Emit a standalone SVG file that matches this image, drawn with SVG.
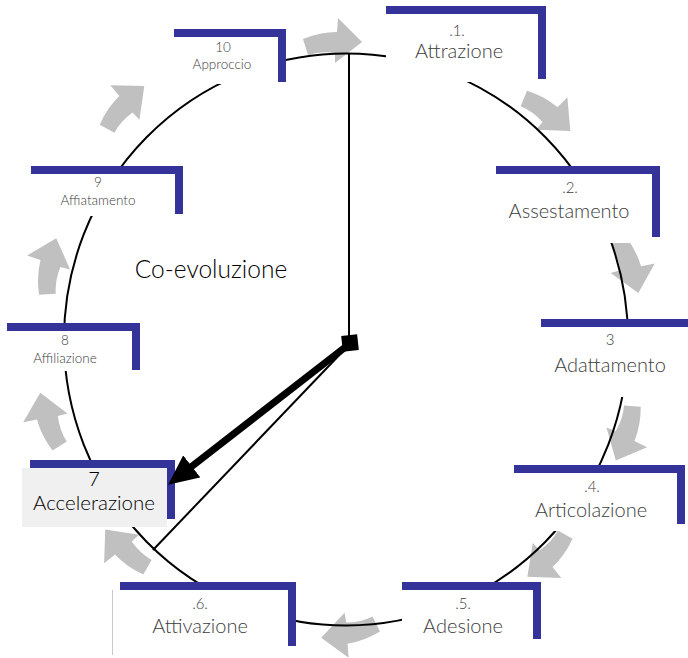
<svg xmlns="http://www.w3.org/2000/svg" width="688" height="658" viewBox="0 0 688 658">
<style>
.bar{fill:#333399}
.bg{fill:#ffffff}
.t{font-family:Lato,"Liberation Sans",sans-serif;font-weight:300;fill:#3c3c3c;text-anchor:middle}
.big{font-size:20px}
.num{font-size:15px}
.sm{font-size:13.5px}
.ga{fill:#c0c0c0}
</style>
<defs>
<path id="ga" d="M -29,-2 Q -12,-9 5,-9 L 6,-23 L 30,1 L 3,22 L 3,12 Q -12,10 -24,14 Z"/>
<marker id="ah" markerUnits="userSpaceOnUse" viewBox="0 0 30 28" refX="1" refY="14" markerWidth="30" markerHeight="28" orient="auto">
<path d="M0,0 L30,14 L0,28 Z" fill="#000"/>
</marker>
</defs>
<rect width="688" height="658" fill="#fff"/>
<g id="flow-arrows" class="ga">
<use href="#ga" transform="translate(332,41)"/>
<use href="#ga" transform="translate(548,111) rotate(40)"/>
<use href="#ga" transform="translate(631,264) rotate(74)"/>
<use href="#ga" transform="translate(628,433) rotate(112)"/>
<use href="#ga" transform="translate(550,557) rotate(137)"/>
<use href="#ga" transform="translate(351,634) rotate(171)"/>
<use href="#ga" transform="translate(125,552) rotate(227)"/>
<use href="#ga" transform="translate(47,422) rotate(255)"/>
<use href="#ga" transform="translate(48,267) rotate(284)"/>
<use href="#ga" transform="translate(122,106) rotate(316)"/>
</g>
<ellipse id="cycle" cx="346" cy="339.5" rx="282" ry="286" fill="none" stroke="#000" stroke-width="2"/>
<text x="211" y="278" font-family="Lato,'Liberation Sans',sans-serif" font-size="24.5" font-weight="300" fill="#000" text-anchor="middle">Co-evoluzione</text>
<g id="n1">
<rect class="bg" x="386" y="6" width="160" height="76"/>
<rect class="bar" x="386" y="6" width="160" height="8"/>
<rect class="bar" x="538" y="6" width="8" height="73"/>
<text class="t num" x="457" y="36">.1.</text>
<text class="t big" x="459" y="58">Attrazione</text>
</g>
<g id="n2">
<rect class="bg" x="496" y="166" width="164" height="77"/>
<rect class="bar" x="496" y="166" width="164" height="8"/>
<rect class="bar" x="652" y="166" width="8" height="71"/>
<text class="t num" x="570" y="193">.2.</text>
<text class="t big" x="569" y="218">Assestamento</text>
</g>
<g id="n3">
<rect class="bg" x="541" y="319" width="147" height="78"/>
<rect class="bar" x="541" y="319" width="147" height="8"/>
<text class="t num" x="610" y="345">3</text>
<text class="t big" x="610" y="372">Adattamento</text>
</g>
<g id="n4">
<rect class="bg" x="514" y="465" width="171" height="66"/>
<rect class="bar" x="514" y="465" width="171" height="8"/>
<rect class="bar" x="677" y="465" width="8" height="59"/>
<text class="t num" x="592" y="492">.4.</text>
<text class="t big" x="591" y="517">Articolazione</text>
</g>
<g id="n5">
<rect class="bg" x="402" y="582" width="139" height="58"/>
<rect class="bar" x="402" y="582" width="139" height="8"/>
<rect class="bar" x="533" y="582" width="8" height="57"/>
<text class="t num" x="463" y="609">.5.</text>
<text class="t big" x="463" y="633">Adesione</text>
</g>
<g id="n6">
<rect class="bg" x="120" y="582" width="176" height="66"/>
<rect class="bar" x="120" y="582" width="176" height="8"/>
<rect class="bar" x="288" y="582" width="8" height="64"/>
<line x1="112.5" y1="590" x2="112.5" y2="655" stroke="#c8c8c8" stroke-width="1"/>
<text class="t num" x="200" y="609">.6.</text>
<text class="t big" x="200" y="633">Attivazione</text>
</g>
<g id="n7">
<rect class="bar" x="30" y="460" width="145" height="8"/>
<rect class="bar" x="167" y="460" width="8" height="59"/>
<rect x="22" y="468" width="145" height="59" fill="#f0f0f0"/>
<text class="t" x="94" y="486" font-size="20" style="fill:#000">7</text>
<text class="t" x="94" y="510" font-size="20.5" style="fill:#000">Accelerazione</text>
</g>
<g id="n8">
<rect class="bg" x="7" y="323" width="133" height="48"/>
<rect class="bar" x="7" y="323" width="133" height="8"/>
<rect class="bar" x="132" y="323" width="8" height="47"/>
<text class="t sm" x="65" y="345">8</text>
<text class="t sm" x="65" y="363">Affiliazione</text>
</g>
<g id="n9">
<rect class="bg" x="31" y="166" width="152" height="50"/>
<rect class="bar" x="31" y="166" width="152" height="8"/>
<rect class="bar" x="175" y="166" width="8" height="48"/>
<text class="t sm" x="98" y="187">9</text>
<text class="t sm" x="98" y="205">Affiatamento</text>
</g>
<g id="n10">
<rect class="bg" x="174" y="29" width="112" height="55"/>
<rect class="bar" x="174" y="29" width="112" height="8"/>
<rect class="bar" x="278" y="29" width="8" height="53"/>
<text class="t sm" x="223" y="52">10</text>
<text class="t sm" x="222" y="69">Approccio</text>
</g>
<g id="connectors" stroke="#000" fill="none">
<line x1="349" y1="54" x2="349" y2="340" stroke-width="2"/>
<line x1="346" y1="348" x2="153" y2="550" stroke-width="2"/>
<line x1="348" y1="345" x2="191" y2="467" stroke-width="7" marker-end="url(#ah)"/>
<rect x="342" y="335" width="16" height="16" fill="#000" stroke="none" transform="rotate(-6 350 343)"/>
</g>
</svg>
